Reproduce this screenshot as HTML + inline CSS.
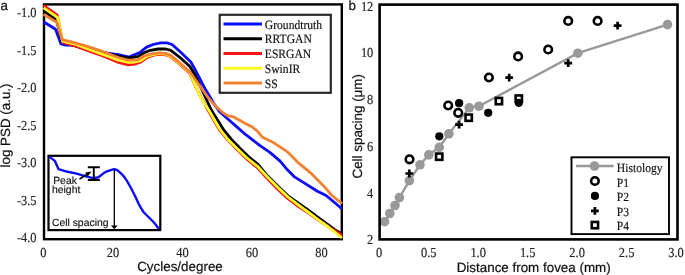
<!DOCTYPE html>
<html><head><meta charset="utf-8"><style>
html,body{margin:0;padding:0;background:#fff;}
svg{display:block;}
.tk{font-family:"Liberation Serif",serif;font-size:12.4px;fill:#222;stroke:#222;stroke-width:0.15px;text-rendering:geometricPrecision;}
.lg{font-family:"Liberation Serif",serif;font-size:11.6px;fill:#111;stroke:#111;stroke-width:0.15px;text-rendering:geometricPrecision;}
.ax{font-family:"Liberation Sans",sans-serif;font-size:13.4px;fill:#111;stroke:#111;stroke-width:0.2px;text-rendering:geometricPrecision;}
.in{font-family:"Liberation Sans",sans-serif;font-size:10.4px;fill:#111;stroke:#111;stroke-width:0.15px;text-rendering:geometricPrecision;}
</style></head><body>
<svg width="685" height="275" viewBox="0 0 685 275">
<defs><filter id="bl" x="0" y="0" width="685" height="275" filterUnits="userSpaceOnUse"><feGaussianBlur stdDeviation="0.45"/></filter></defs>
<g filter="url(#bl)">
<rect width="685" height="275" fill="#fff"/>
<rect x="44" y="4.4" width="297.8" height="234.8" fill="none" stroke="#000" stroke-width="2.4"/>
<g fill="none" stroke-width="2.8" stroke-linejoin="round" stroke-linecap="butt">
<polyline points="43.5,21.8 55.5,29.3 61.0,44.0 65.0,45.0 76.0,45.3 90.0,49.3 100.0,52.0 105.0,52.8 118.4,54.7 128.2,56.9 130.1,56.6 140.3,52.2 146.6,47.1 153.0,44.5 160.6,42.9 167.0,42.9 172.1,44.5 181.0,52.5 190.8,61.9 194.5,68.5 198.4,76.0 202.0,83.0 206.0,90.3 210.0,97.0 213.5,103.0 219.6,111.8 228.4,119.5 237.1,127.1 245.8,134.7 254.5,141.3 260.0,145.6 269.9,152.4 280.1,161.1 287.4,169.8 294.1,176.6 305.7,183.9 317.4,191.2 326.1,195.5 334.8,202.8 342.0,209.0" stroke="#0c0cfc"/>
<polyline points="43.5,10.5 56.5,19.8 62.0,42.0 80.0,47.5 100.0,51.5 120.0,56.5 128.0,58.0 137.7,56.6 144.1,52.8 150.4,50.3 158.1,49.0 165.7,49.0 170.8,50.3 180.0,57.5 189.7,66.2 195.1,75.0 200.6,87.0 205.5,97.5 211.3,110.0 217.5,120.0 223.7,130.0 231.5,139.5 239.7,148.0 249.0,157.0 258.0,164.4 268.0,176.3 278.0,186.3 288.0,195.8 298.0,203.0 308.0,209.8 318.0,217.3 329.0,225.3 336.0,230.5 342.0,234.0" stroke="#000"/>
<polyline points="43.5,5.3 57.3,15.2 62.7,42.3 76.0,46.1 90.0,51.5 100.9,55.3 109.7,58.8 118.4,62.4 128.2,64.9 135.0,64.0 140.0,62.5 146.5,57.8 152.0,55.6 158.1,54.3 165.7,54.8 170.8,56.8 180.0,64.4 189.7,73.2 195.3,86.0 200.8,97.0 207.9,110.0 213.7,120.0 219.6,130.0 227.5,139.5 236.0,148.5 246.5,158.8 257.5,167.8 267.0,178.2 277.0,188.4 287.0,198.0 297.0,205.5 307.0,212.2 317.0,219.0 328.0,226.5 336.0,231.5 342.0,235.5" stroke="#fa1616"/>
<polyline points="43.5,7.8 57.5,17.4 62.5,41.2 76.0,44.5 90.0,49.8 100.9,53.6 109.7,56.9 118.4,60.2 128.2,62.4 135.0,62.0 140.0,61.0 146.5,56.5 152.0,54.8 158.1,53.6 165.7,54.2 170.8,56.2 180.0,63.8 189.7,72.5 195.5,86.0 200.6,97.0 204.5,104.0 208.7,110.0 214.5,120.0 220.4,130.0 228.0,139.5 236.5,148.0 247.0,158.0 258.0,166.7 268.0,177.5 278.0,187.4 288.0,197.0 298.0,204.7 308.0,212.0 318.0,219.5 329.0,227.5 336.0,233.0 342.0,238.0" stroke="#fafa28"/>
<polyline points="43.5,14.4 57.0,22.5 62.1,39.7 76.2,43.2 90.0,47.1 100.9,50.9 109.7,54.2 118.4,57.5 128.2,60.2 137.7,59.8 144.1,56.0 150.4,54.1 158.1,52.8 165.7,53.4 170.8,55.4 180.0,63.0 189.7,71.7 195.1,79.3 202.8,90.3 208.3,97.9 215.3,105.7 221.8,111.8 227.3,115.7 232.7,116.6 238.2,119.5 245.8,123.8 252.4,127.1 256.8,130.6 262.6,137.3 272.8,142.2 287.4,151.8 299.0,163.4 311.5,173.7 323.2,185.4 331.9,195.5 342.0,203.5" stroke="#f08232"/>
</g>
<rect x="219.7" y="14.8" width="111.1" height="78" fill="#fff" stroke="#2a2a2a" stroke-width="2.2"/>
<line x1="223.5" y1="24.00" x2="262" y2="24.00" stroke="#0c0cfc" stroke-width="2.9"/>
<text transform="translate(264.8,28.50) scale(1,1.1)" class="lg">Groundtruth</text>
<line x1="223.5" y1="38.75" x2="262" y2="38.75" stroke="#000" stroke-width="2.9"/>
<text transform="translate(264.8,43.25) scale(1,1.1)" class="lg">RRTGAN</text>
<line x1="223.5" y1="53.50" x2="262" y2="53.50" stroke="#fa1616" stroke-width="2.9"/>
<text transform="translate(264.8,58.00) scale(1,1.1)" class="lg">ESRGAN</text>
<line x1="223.5" y1="68.25" x2="262" y2="68.25" stroke="#fafa28" stroke-width="2.9"/>
<text transform="translate(264.8,72.75) scale(1,1.1)" class="lg">SwinIR</text>
<line x1="223.5" y1="83.00" x2="262" y2="83.00" stroke="#f08232" stroke-width="2.9"/>
<text transform="translate(264.8,87.50) scale(1,1.1)" class="lg">SS</text>
<rect x="48.5" y="155.8" width="111.8" height="74.3" fill="#fff" stroke="#000" stroke-width="2.2"/>
<polyline points="49.5,156.9 54.9,160.9 58.5,169.1 67.6,171.8 76.7,173.6 85.8,176.4 93.1,178.2 98.5,177.3 103.1,173.6 106.2,171.7 113.9,169.2 117.0,170.0 120.2,172.6 123.5,176.0 126.8,180.6 129.0,184.5 130.7,187.5 133.5,193.0 136.0,198.0 138.5,203.5 141.2,208.4 143.5,212.0 146.4,215.0 149.5,218.0 153.0,221.5 156.0,225.0 158.7,228.7" fill="none" stroke="#0c0cfc" stroke-width="2.4" stroke-linejoin="round"/>
<path d="M87.8,167.3H99.8M87.8,180H99.8M93.8,167.3V180" stroke="#000" stroke-width="1.9" fill="none"/>
<path d="M79.5,179L88.5,173.4" stroke="#000" stroke-width="1.6" fill="none"/>
<path d="M91.6,171.5L85.2,172.4L87.6,176.6Z" fill="#000"/>
<path d="M114.3,169.5V226" stroke="#000" stroke-width="1.3" fill="none"/>
<path d="M110.9,225.6H117.7L114.3,229.2Z" fill="#000"/>
<text x="53.2" y="183.6" class="in">Peak</text>
<text x="52.0" y="192.6" class="in">height</text>
<text x="51.9" y="226" class="in">Cell spacing</text>
<text transform="translate(36.5,17.10) scale(1,1.11)" class="tk" text-anchor="end">-1.0</text>
<text transform="translate(36.5,54.65) scale(1,1.11)" class="tk" text-anchor="end">-1.5</text>
<text transform="translate(36.5,92.20) scale(1,1.11)" class="tk" text-anchor="end">-2.0</text>
<text transform="translate(36.5,129.75) scale(1,1.11)" class="tk" text-anchor="end">-2.5</text>
<text transform="translate(36.5,167.30) scale(1,1.11)" class="tk" text-anchor="end">-3.0</text>
<text transform="translate(36.5,204.85) scale(1,1.11)" class="tk" text-anchor="end">-3.5</text>
<text transform="translate(36.5,242.40) scale(1,1.11)" class="tk" text-anchor="end">-4.0</text>
<text transform="translate(43.40,256.7) scale(1,1.11)" class="tk" text-anchor="middle">0</text>
<text transform="translate(112.90,256.7) scale(1,1.11)" class="tk" text-anchor="middle">20</text>
<text transform="translate(182.40,256.7) scale(1,1.11)" class="tk" text-anchor="middle">40</text>
<text transform="translate(251.90,256.7) scale(1,1.11)" class="tk" text-anchor="middle">60</text>
<text transform="translate(321.40,256.7) scale(1,1.11)" class="tk" text-anchor="middle">80</text>
<text x="180" y="270.6" class="ax" text-anchor="middle">Cycles/degree</text>
<text transform="translate(10,125.5) rotate(-90)" class="ax" text-anchor="middle">log PSD (a.u.)</text>
<text x="0.6" y="9.6" class="ax">a</text>
<text x="348.6" y="9.8" class="ax">b</text>
<polyline points="384.6,221.7 389.8,213.5 395.0,205.5 399.4,197.6 409.4,180.6 420.0,164.8 428.8,154.9 439.2,147.4 448.9,133.8 469.3,107.8 478.9,106.2 577.8,53.2 667.5,24.6" fill="none" stroke="#999999" stroke-width="2.4"/>
<circle cx="384.6" cy="221.7" r="4.8" fill="#999999"/>
<circle cx="389.8" cy="213.5" r="4.8" fill="#999999"/>
<circle cx="395" cy="205.5" r="4.8" fill="#999999"/>
<circle cx="399.4" cy="197.6" r="4.8" fill="#999999"/>
<circle cx="409.4" cy="180.6" r="4.8" fill="#999999"/>
<circle cx="420" cy="164.8" r="4.8" fill="#999999"/>
<circle cx="428.8" cy="154.9" r="4.8" fill="#999999"/>
<circle cx="439.2" cy="147.4" r="4.8" fill="#999999"/>
<circle cx="448.9" cy="133.8" r="4.8" fill="#999999"/>
<circle cx="469.3" cy="107.8" r="4.8" fill="#999999"/>
<circle cx="478.9" cy="106.2" r="4.8" fill="#999999"/>
<circle cx="577.8" cy="53.2" r="4.8" fill="#999999"/>
<circle cx="667.5" cy="24.6" r="4.8" fill="#999999"/>
<circle cx="409.5" cy="159.3" r="3.8" fill="none" stroke="#000" stroke-width="2.6"/>
<circle cx="448.2" cy="105.5" r="3.8" fill="none" stroke="#000" stroke-width="2.6"/>
<circle cx="458.2" cy="112.8" r="3.8" fill="none" stroke="#000" stroke-width="2.6"/>
<circle cx="488.9" cy="77.5" r="3.8" fill="none" stroke="#000" stroke-width="2.6"/>
<circle cx="518.1" cy="56.4" r="3.8" fill="none" stroke="#000" stroke-width="2.6"/>
<circle cx="548.2" cy="49.5" r="3.8" fill="none" stroke="#000" stroke-width="2.6"/>
<circle cx="568.2" cy="20.9" r="3.8" fill="none" stroke="#000" stroke-width="2.6"/>
<circle cx="597.6" cy="20.9" r="3.8" fill="none" stroke="#000" stroke-width="2.6"/>
<path d="M405.40,173.50H413.20M409.30,169.60V177.40" stroke="#000" stroke-width="2.7" fill="none"/>
<path d="M455.20,124.70H463.00M459.10,120.80V128.60" stroke="#000" stroke-width="2.7" fill="none"/>
<path d="M505.30,77.60H513.10M509.20,73.70V81.50" stroke="#000" stroke-width="2.7" fill="none"/>
<path d="M564.30,63.20H572.10M568.20,59.30V67.10" stroke="#000" stroke-width="2.7" fill="none"/>
<path d="M613.70,25.70H621.50M617.60,21.80V29.60" stroke="#000" stroke-width="2.7" fill="none"/>
<rect x="436.05" y="153.55" width="6.3" height="6.3" fill="none" stroke="#000" stroke-width="2.6"/>
<rect x="465.55" y="114.55" width="6.3" height="6.3" fill="none" stroke="#000" stroke-width="2.6"/>
<rect x="495.75" y="97.95" width="6.3" height="6.3" fill="none" stroke="#000" stroke-width="2.6"/>
<rect x="515.65" y="95.45" width="6.3" height="6.3" fill="none" stroke="#000" stroke-width="2.6"/>
<circle cx="439.3" cy="136.3" r="4.1" fill="#000"/>
<circle cx="459.1" cy="103.2" r="4.1" fill="#000"/>
<circle cx="488.2" cy="112.8" r="4.1" fill="#000"/>
<circle cx="518.8" cy="102.8" r="4.1" fill="#000"/>
<rect x="379.6" y="4.6" width="297.9" height="234.8" fill="none" stroke="#000" stroke-width="2.6"/>
<rect x="571.5" y="157.3" width="97.5" height="76.8" fill="#fff" stroke="#000" stroke-width="1.9"/>
<line x1="576" y1="166" x2="613.6" y2="166" stroke="#999999" stroke-width="2.4"/>
<circle cx="594.5" cy="166" r="4.8" fill="#999999"/>
<circle cx="594.9" cy="181" r="3.8" fill="none" stroke="#000" stroke-width="2.6"/>
<circle cx="594.9" cy="195.9" r="4.1" fill="#000"/>
<path d="M591.00,210.90H598.80M594.90,207.00V214.80" stroke="#000" stroke-width="2.7" fill="none"/>
<rect x="591.75" y="221.95" width="6.3" height="6.3" fill="none" stroke="#000" stroke-width="2.6"/>
<text transform="translate(616.8,172.00) scale(1,1.08)" class="lg">Histology</text>
<text transform="translate(616.8,186.55) scale(1,1.08)" class="lg">P1</text>
<text transform="translate(616.8,201.10) scale(1,1.08)" class="lg">P2</text>
<text transform="translate(616.8,215.65) scale(1,1.08)" class="lg">P3</text>
<text transform="translate(616.8,230.20) scale(1,1.08)" class="lg">P4</text>
<text transform="translate(379.20,256.9) scale(1,1.11)" class="tk" text-anchor="middle">0</text>
<text transform="translate(428.68,256.9) scale(1,1.11)" class="tk" text-anchor="middle">0.5</text>
<text transform="translate(478.16,256.9) scale(1,1.11)" class="tk" text-anchor="middle">1.0</text>
<text transform="translate(527.64,256.9) scale(1,1.11)" class="tk" text-anchor="middle">1.5</text>
<text transform="translate(577.12,256.9) scale(1,1.11)" class="tk" text-anchor="middle">2.0</text>
<text transform="translate(626.60,256.9) scale(1,1.11)" class="tk" text-anchor="middle">2.5</text>
<text transform="translate(676.08,256.9) scale(1,1.11)" class="tk" text-anchor="middle">3.0</text>
<text transform="translate(373.3,10.50) scale(1,1.11)" class="tk" text-anchor="end">12</text>
<text transform="translate(373.3,57.26) scale(1,1.11)" class="tk" text-anchor="end">10</text>
<text transform="translate(373.3,104.02) scale(1,1.11)" class="tk" text-anchor="end">8</text>
<text transform="translate(373.3,150.78) scale(1,1.11)" class="tk" text-anchor="end">6</text>
<text transform="translate(373.3,197.54) scale(1,1.11)" class="tk" text-anchor="end">4</text>
<text transform="translate(373.3,244.30) scale(1,1.11)" class="tk" text-anchor="end">2</text>
<text x="533.7" y="271.5" class="ax" text-anchor="middle">Distance from fovea (mm)</text>
<text transform="translate(362.2,126.3) rotate(-90)" class="ax" text-anchor="middle">Cell spacing (μm)</text>
</g>
</svg>
</body></html>
